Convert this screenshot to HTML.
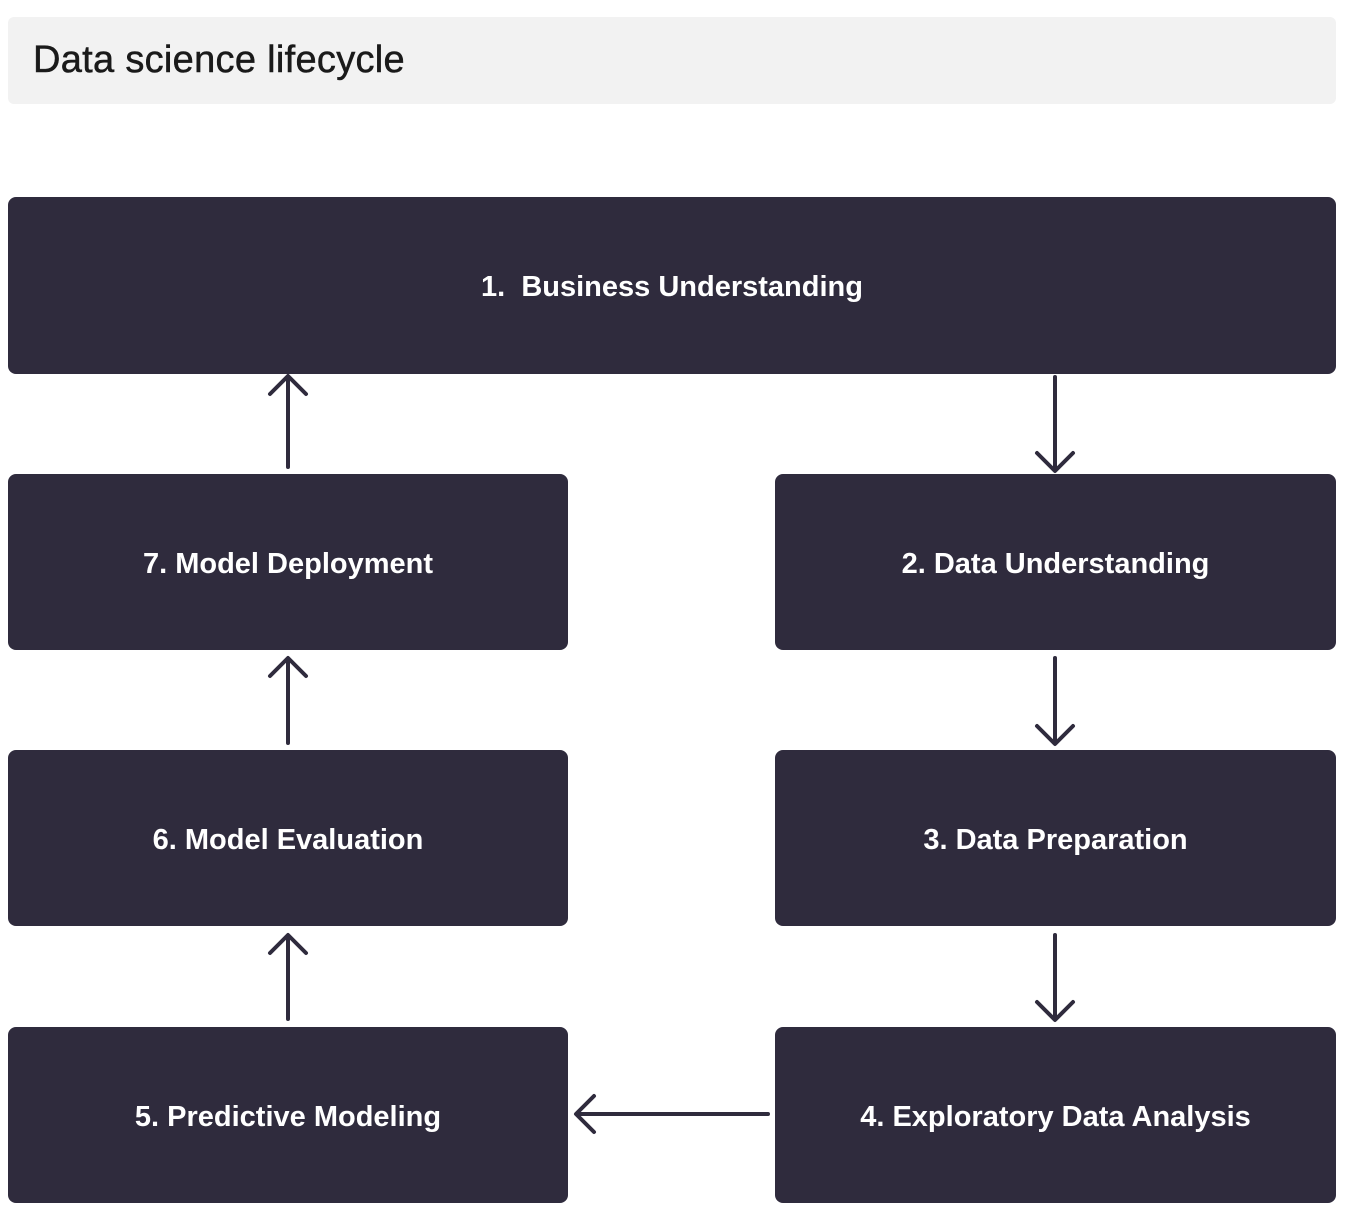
<!DOCTYPE html>
<html><head><style>
body{margin:0;width:1348px;height:1218px;background:#fff;position:relative;font-family:"Liberation Sans",sans-serif;overflow:hidden}
.hdr{position:absolute;left:8px;top:17px;width:1328px;height:87px;background:#f2f2f2;border-radius:6px}
.hdr span{position:absolute;left:25px;top:22px;font-size:38px;color:#1a1a1a;letter-spacing:0.3px;-webkit-text-stroke:0.5px #1a1a1a}
.b{position:absolute;background:#2f2b3d;border-radius:8px;color:#fff;font-weight:bold;font-size:29px;display:flex;align-items:center;justify-content:center;box-sizing:border-box;padding-top:4px}
svg{position:absolute;left:0;top:0}
</style></head><body>
<div class="hdr"><span>Data science lifecycle</span></div>
<div class="b" style="left:8px;top:197px;width:1328px;height:177px">1.&nbsp; Business Understanding</div>
<div class="b" style="left:8px;top:474px;width:560px;height:176px">7. Model Deployment</div>
<div class="b" style="left:775px;top:474px;width:561px;height:176px">2. Data Understanding</div>
<div class="b" style="left:8px;top:750px;width:560px;height:176px">6. Model Evaluation</div>
<div class="b" style="left:775px;top:750px;width:561px;height:176px">3. Data Preparation</div>
<div class="b" style="left:8px;top:1027px;width:560px;height:176px">5. Predictive Modeling</div>
<div class="b" style="left:775px;top:1027px;width:561px;height:176px">4. Exploratory Data Analysis</div>
<svg width="1348" height="1218" fill="none" stroke="#2f2b3d" stroke-width="4" stroke-linecap="round" stroke-linejoin="round">
<path d="M288 467V377M270 394L288 376L306 394"/>
<path d="M288 743V659M270 676L288 658L306 676"/>
<path d="M288 1019V936M270 953L288 935L306 953"/>
<path d="M1055 377V470M1037 453L1055 471L1073 453"/>
<path d="M1055 658V743M1037 726L1055 744L1073 726"/>
<path d="M1055 935V1019M1037 1002L1055 1020L1073 1002"/>
<path d="M768 1114H577M594 1096L576 1114L594 1132"/>
</svg>
</body></html>
